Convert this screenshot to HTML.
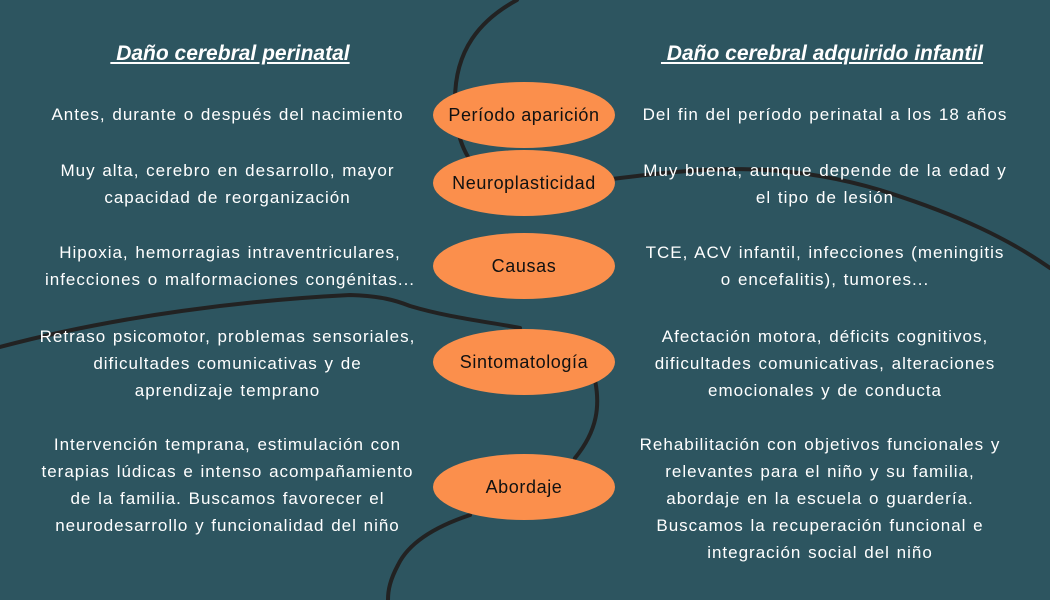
<!DOCTYPE html>
<html><head><meta charset="utf-8"><style>
body{margin:0;width:1050px;height:600px;background:#2d5560;overflow:hidden;position:relative;font-family:"Liberation Sans",sans-serif}
svg{position:absolute;left:0;top:0}
.t{position:absolute;color:#fff;font-size:17px;line-height:27px;text-align:center;letter-spacing:1px;word-spacing:1px}
.h{position:absolute;color:#fff;font-size:21px;font-weight:bold;font-style:italic;text-decoration:underline;text-align:center}
.e{position:absolute;width:182px;height:66px;border-radius:50%;background:#fb8f4c;color:#111;font-size:18px;letter-spacing:0.6px;display:flex;align-items:center;justify-content:center}
</style></head><body>
<svg width="1050" height="600">
<g fill="none" stroke="#222" stroke-width="4" stroke-linecap="round">
<path d="M517,0 C480,20 455,50 455,100 C455,125 460,145 470,160"/>
<path d="M612,179 C700,168 780,160 880,190 C960,215 1010,240 1050,268"/>
<path d="M0,347 C120,315 250,300 350,295 C380,296 395,300 410,306 C450,318 490,322 520,328"/>
<path d="M595,380 C600,405 598,430 575,458"/>
<path d="M470,515 C440,525 410,540 398,565 C390,580 388,590 388,600"/>
</g></svg>
<div class="h" style="left:80px;top:42px;width:300px">&nbsp;Daño cerebral perinatal</div>
<div class="h" style="left:622px;top:42px;width:400px">&nbsp;Daño cerebral adquirido infantil</div>
<div class="e" style="left:433px;top:82px">Período aparición</div>
<div class="e" style="left:433px;top:150px">Neuroplasticidad</div>
<div class="e" style="left:433px;top:233px">Causas</div>
<div class="e" style="left:433px;top:329px">Sintomatología</div>
<div class="e" style="left:433px;top:454px">Abordaje</div>
<div class="t" style="left:20px;top:101px;width:415px">Antes, durante o después del nacimiento</div>
<div class="t" style="left:20px;top:157px;width:415px">Muy alta, cerebro en desarrollo, mayor<br>capacidad de reorganización</div>
<div class="t" style="left:20px;top:239px;width:420px">Hipoxia, hemorragias intraventriculares,<br>infecciones o malformaciones congénitas...</div>
<div class="t" style="left:15px;top:323px;width:425px">Retraso psicomotor, problemas sensoriales,<br>dificultades comunicativas y de<br>aprendizaje temprano</div>
<div class="t" style="left:15px;top:431px;width:425px">Intervención temprana, estimulación con<br>terapias lúdicas e intenso acompañamiento<br>de la familia. Buscamos favorecer el<br>neurodesarrollo y funcionalidad del niño</div>
<div class="t" style="left:615px;top:101px;width:420px">Del fin del período perinatal a los 18 años</div>
<div class="t" style="left:615px;top:157px;width:420px">Muy buena, aunque depende de la edad y<br>el tipo de lesión</div>
<div class="t" style="left:615px;top:239px;width:420px">TCE, ACV infantil, infecciones (meningitis<br>o encefalitis), tumores...</div>
<div class="t" style="left:615px;top:323px;width:420px">Afectación motora, déficits cognitivos,<br>dificultades comunicativas, alteraciones<br>emocionales y de conducta</div>
<div class="t" style="left:610px;top:431px;width:420px">Rehabilitación con objetivos funcionales y<br>relevantes para el niño y su familia,<br>abordaje en la escuela o guardería.<br>Buscamos la recuperación funcional e<br>integración social del niño</div>
</body></html>
